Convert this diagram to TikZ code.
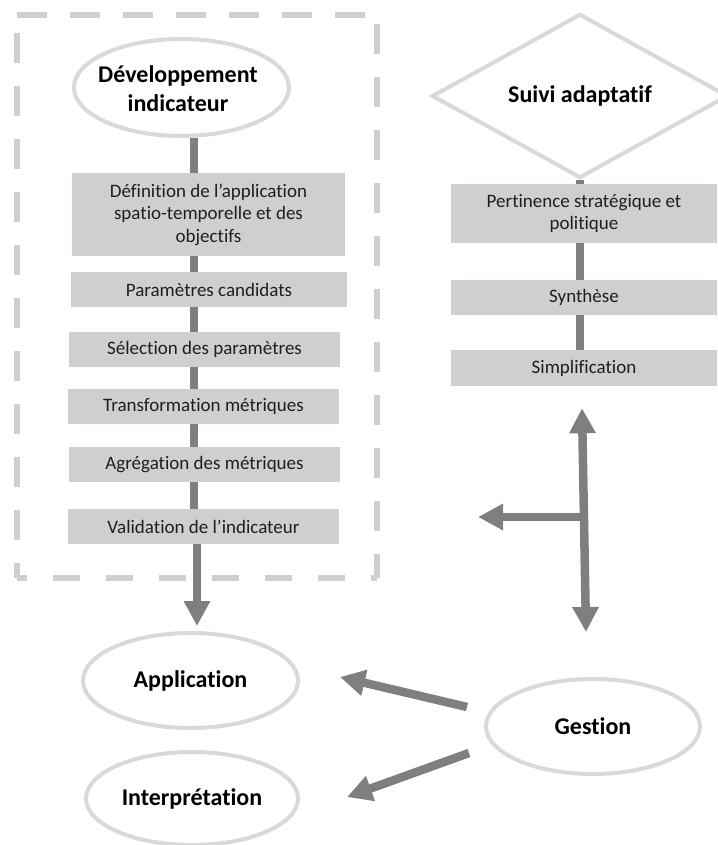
\documentclass[tikz,border=0pt]{standalone}
\usepackage{fontspec}
\setmainfont{Carlito}[Ligatures=NoCommon]
\usetikzlibrary{shapes.geometric,arrows.meta,calc}
\definecolor{boxgray}{HTML}{D0CECE}
\definecolor{ellgray}{HTML}{D9D9D9}
\definecolor{dashgray}{HTML}{D0CECE}
\definecolor{conngray}{HTML}{7F7F7F}
\newcommand\regf{\fontsize{19}{22.5}\selectfont}
\newcommand\boldf{\fontsize{24}{29}\selectfont\bfseries}
\tikzset{
  stepbox/.style={rectangle, fill=boxgray, inner sep=0pt, align=center, font=\regf, text=black!88},
  ell/.style={ellipse, draw=ellgray, line width=4pt, fill=white, inner sep=0pt, font=\boldf, align=center},
  titletext/.style={inner sep=0pt, font=\boldf, align=center},
  dia/.style={diamond, draw=ellgray, line width=4pt, fill=white, inner sep=0pt, font=\boldf},
  conn/.style={draw=conngray, line width=8pt},
  bigarr/.style={draw=conngray, line width=8.5pt, -{Triangle[length=25pt,width=25pt]}},
  bigarrboth/.style={draw=conngray, line width=8.5pt, {Triangle[length=25pt,width=25pt]}-{Triangle[length=25pt,width=25pt]}},
  dashside/.style={draw=dashgray, line width=6pt, dash pattern=on 30pt off 23pt}
}
\begin{document}
\begin{tikzpicture}[x=1pt,y=-1pt]
\useasboundingbox (0,0) rectangle (717,845);
\fill[white] (0,0) rectangle (717,845);

% dashed frame
\draw[dashside] (17,15) -- (377,15);
\draw[dashside] (17,33) -- (17,578);
\draw[dashside] (377,24) -- (377,578);
\draw[draw=dashgray, line width=6pt, dash pattern=on 27pt off 26pt, dash phase=17pt] (17,578) -- (377,578);

% spine coordinates
\coordinate (sp1) at (194,0);
\coordinate (ax) at (197,0);
\coordinate (sp2) at (580,0);

% left column
\node[ell, minimum width=215pt, minimum height=97pt] (dev) at (181.5,87.5) {};
\node[titletext] (devtxt) at (178,89) {Développement\\indicateur};

\node[stepbox, minimum width=273pt, minimum height=83pt] (b1) at (208.5,214.5)
  {Définition de l’application\\spatio-temporelle et des\\objectifs};
\node[stepbox, minimum width=276pt, minimum height=35pt] (b2) at (209,289.5) {Paramètres candidats};
\node[stepbox, minimum width=271pt, minimum height=35pt] (b3) at (204.5,349.5) {Sélection des paramètres};
\node[stepbox, minimum width=271pt, minimum height=35pt] (b4) at (203.5,406.5) {Transformation métriques};
\node[stepbox, minimum width=271pt, minimum height=35pt] (b5) at (204.5,464.5) {Agrégation des métriques};
\node[stepbox, minimum width=271pt, minimum height=35pt] (b6) at (203.5,526.5) {Validation de l’indicateur};

\draw[conn] (dev.south -| sp1) -- (b1.north -| sp1);
\draw[conn] (b1.south -| sp1) -- (b2.north -| sp1);
\draw[conn] (b2.south -| sp1) -- (b3.north -| sp1);
\draw[conn] (b3.south -| sp1) -- (b4.north -| sp1);
\draw[conn] (b4.south -| sp1) -- (b5.north -| sp1);
\draw[conn] (b5.south -| sp1) -- (b6.north -| sp1);

% bottom ellipses
\node[ell, minimum width=215pt, minimum height=95pt] (app) at (190.5,680.5) {Application};
\node[ell, minimum width=212pt, minimum height=93pt] (interp) at (192,798.5) {Interprétation};
\node[ell, minimum width=214pt, minimum height=95pt] (ges) at (593,726.5) {Gestion};

\draw[bigarr, shorten >=5pt] (b6.south -| ax) -- (app.north -| ax);

% right column
\node[dia, minimum width=296pt, minimum height=126pt] (suivi) at (580,96) {Suivi adaptatif};
\node[stepbox, minimum width=266pt, minimum height=59pt] (r1) at (584,213.5) {Pertinence stratégique et\\politique};
\node[stepbox, minimum width=266pt, minimum height=35pt] (r2) at (584,297.5) {Synthèse};
\node[stepbox, minimum width=266pt, minimum height=36pt] (r3) at (584,368) {Simplification};

\draw[conn] (suivi.south -| sp2) -- (r1.north -| sp2);
\draw[conn] (r1.south -| sp2) -- (r2.north -| sp2);
\draw[conn] (r2.south -| sp2) -- (r3.north -| sp2);

% branching double arrow
\coordinate (uptip) at ($(r3.south)+(-2,22)$);
\coordinate (dntip) at ($(ges.north)+(-7,-45)$);
\coordinate (jn) at (583,517);
\coordinate (lftip) at (478,517);
\draw[bigarrboth] (uptip) -- (dntip);
\draw[bigarr] (jn) -- (lftip);

% arrows from Gestion
\coordinate (g1) at ($(ges.center)+(-126,-19.5)$);
\coordinate (a1) at ($(app.east)+(40,-3.5)$);
\coordinate (g2) at ($(ges.center)+(-124,26.5)$);
\coordinate (i1) at ($(interp.east)+(47,-1.5)$);
\draw[bigarr] (g1) -- (a1);
\draw[bigarr] (g2) -- (i1);
\end{tikzpicture}
\end{document}
